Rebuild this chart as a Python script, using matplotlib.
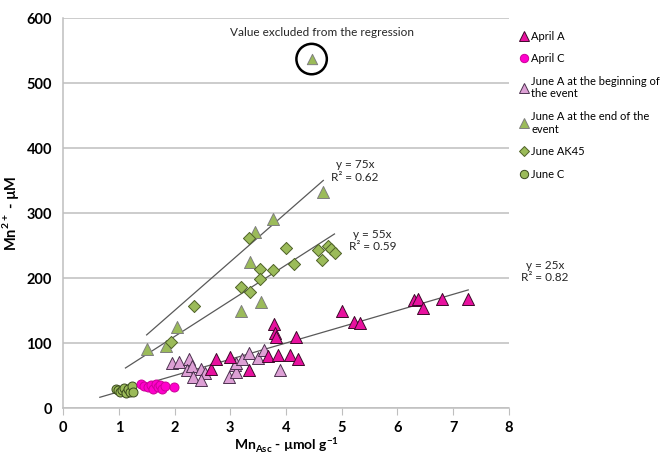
import numpy as np
import matplotlib
matplotlib.use("Agg")
import matplotlib.pyplot as plt
from matplotlib.lines import Line2D

plt.rcParams['font.family'] = ['Lato', 'DejaVu Sans']
plt.rcParams['mathtext.fontset'] = 'custom'
plt.rcParams['mathtext.rm'] = 'Lato'
plt.rcParams['mathtext.bf'] = 'Lato:bold'

# data
april_a_x = [2.66, 2.74, 2.99, 3.34, 3.68, 3.78, 3.81, 3.82, 3.86, 4.08,
             4.18, 4.22, 5.00, 5.22, 5.33, 6.29, 6.37, 6.46, 6.80, 7.26]
april_a_y = [60, 75, 78, 58, 80, 130, 115, 110, 81, 81,
             109, 75, 150, 132, 131, 166, 168, 154, 168, 168]

april_c_x = [1.40, 1.46, 1.52, 1.58, 1.62, 1.66, 1.70, 1.74, 1.78, 1.83, 1.99]
april_c_y = [37, 34, 33, 35, 30, 37, 33, 36, 30, 34, 33]

june_a_beg_x = [1.96, 2.08, 2.26, 2.23, 2.32, 2.33, 2.47, 2.54, 2.47, 2.97,
                3.08, 3.10, 3.10, 3.21, 3.33, 3.50, 3.60, 3.89]
june_a_beg_y = [70, 71, 75, 59, 65, 47, 60, 54, 43, 48,
                66, 56, 70, 75, 85, 77, 89, 59]

june_a_end_x = [1.51, 1.84, 2.05, 3.19, 3.35, 3.44, 3.55, 3.77, 4.67]
june_a_end_y = [91, 96, 124, 150, 224, 271, 163, 291, 333]
outlier_x, outlier_y = 4.46, 537

june_ak45_x = [1.93, 2.35, 3.19, 3.36, 3.34, 3.53, 3.53, 3.76, 4.00, 4.14,
               4.58, 4.64, 4.76, 4.80, 4.88]
june_ak45_y = [101, 157, 186, 179, 261, 214, 199, 213, 247, 221,
               243, 228, 250, 244, 239]

june_c_x = [0.95, 0.98, 1.02, 1.05, 1.09, 1.13, 1.17, 1.20, 1.23, 1.26]
june_c_y = [29, 27, 25, 28, 31, 23, 30, 25, 34, 24]

# regression lines: slope, x range, label and where it sits
fits = [
    (75, 1.5, 4.67, "y = 75x\nR² = 0.62", 5.24, 365),
    (55, 1.12, 4.87, "y = 55x\nR² = 0.59", 5.55, 258),
    (25, 0.66, 7.27, "y = 25x\nR² = 0.82", 8.65, 210),
]

green = '#9BBB59'
fig = plt.figure(figsize=(6.67, 4.53), dpi=100)
ax = fig.add_axes([0.0945, 0.0993, 0.6685, 0.8607])

for slope, x0, x1, lab, tx, ty in fits:
    xs = np.array([x0, x1])
    ax.plot(xs, slope * xs, color='#595959', lw=0.9, zorder=2)
    ax.text(tx, ty, lab, ha='center', va='center', fontsize=8.5,
            color='#262626', clip_on=False, linespacing=1.15)

ax.scatter(june_c_x, june_c_y, marker='o', s=42, facecolor=green,
           edgecolor='#3a4a1e', lw=0.7, zorder=3)
ax.scatter(april_c_x, april_c_y, marker='o', s=42, facecolor='#FF00CC',
           edgecolor='#cc0099', lw=0.7, zorder=3)
ax.scatter(june_a_beg_x, june_a_beg_y, marker='^', s=75, facecolor='#DDA0D5',
           edgecolor='#4d3350', lw=0.7, zorder=3)
ax.scatter(april_a_x, april_a_y, marker='^', s=75, facecolor='#E8119F',
           edgecolor='#3d0a2a', lw=0.7, zorder=3)
ax.scatter(june_a_end_x, june_a_end_y, marker='^', s=75, facecolor=green,
           edgecolor='#7f7f7f', lw=0.7, zorder=3)
ax.scatter([outlier_x], [outlier_y], marker='^', s=55, facecolor=green,
           edgecolor='#7f7f7f', lw=0.7, zorder=3)
ax.scatter(june_ak45_x, june_ak45_y, marker='D', s=38, facecolor=green,
           edgecolor='#4f6228', lw=0.7, zorder=3)

# circle around the excluded value
ax.scatter([outlier_x], [outlier_y], marker='o', s=480, facecolor='none',
           edgecolor='black', lw=1.8, zorder=4)
ax.text(4.64, 578, "Value excluded from the regression", ha='center',
        va='center', fontsize=8.5, color='#262626')

ax.set_xlim(0, 8)
ax.set_ylim(0, 600)
ax.set_xticks(range(0, 9))
ax.set_yticks(range(0, 601, 100))
ax.yaxis.grid(True, color='#BFBFBF', lw=1.1)
ax.set_axisbelow(True)
for s in ['top', 'right']:
    ax.spines[s].set_visible(False)
for s in ['left', 'bottom']:
    ax.spines[s].set_color('#BFBFBF')
    ax.spines[s].set_linewidth(1.1)
ax.tick_params(axis='x', length=5, color='#BFBFBF', labelsize=10.5, pad=4)
ax.tick_params(axis='y', length=0, labelsize=10.5, pad=8)
for lbl in ax.get_xticklabels() + ax.get_yticklabels():
    lbl.set_fontweight('bold')

ax.set_xlabel("Mn$_{\\mathbf{Asc}}$ - µmol g$^{\\mathbf{-1}}$", fontsize=10,
              fontweight='bold', labelpad=0)
ax.set_ylabel("Mn$^{\\mathbf{2+}}$ - µM", fontsize=10.5, fontweight='bold',
              labelpad=4)

handles = [
    Line2D([], [], ls='', marker='^', ms=7, mfc='#E8119F', mec='#3d0a2a', mew=0.7),
    Line2D([], [], ls='', marker='o', ms=6, mfc='#FF00CC', mec='#cc0099', mew=0.7),
    Line2D([], [], ls='', marker='^', ms=7, mfc='#DDA0D5', mec='#4d3350', mew=0.7),
    Line2D([], [], ls='', marker='^', ms=7, mfc=green, mec='#7f7f7f', mew=0.7),
    Line2D([], [], ls='', marker='D', ms=5, mfc=green, mec='#4f6228', mew=0.7),
    Line2D([], [], ls='', marker='o', ms=6, mfc=green, mec='#3a4a1e', mew=0.7),
]
labels = ["April A", "April C", "June A at the beginning of\nthe event",
          "June A at the end of the\nevent", "June AK45", "June C"]
fig.legend(handles, labels, loc='upper left', bbox_to_anchor=(0.772, 0.942),
           frameon=False, fontsize=8, handletextpad=0.15, handlelength=0.9,
           labelspacing=1.03, borderaxespad=0)

fig.savefig("out.png", dpi=100)
